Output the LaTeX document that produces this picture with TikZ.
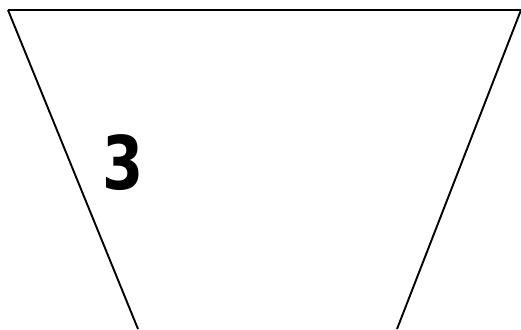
\documentclass[tikz,border=0pt]{standalone}
\usepackage{fontspec}
\newfontfamily\digitfont{DejaVu Sans}

\begin{document}
\begin{tikzpicture}[x=1pt,y=-1pt]
    \useasboundingbox (0,0) rectangle (521,329);
    \clip (0,0) rectangle (521,329);

    \coordinate (tl) at (8,10);
    \coordinate (tr) at (521,10);
    \coordinate (bl) at (138,329);
    \coordinate (br) at (397,329);

    \draw [line width=2pt] (tl) -- (tr);
    \draw [line width=1.9pt] (tl) -- (bl);
    \draw [line width=1.9pt] (tr) -- (br);

    \node (three) [inner sep=0pt,xscale=0.8,font=\digitfont\bfseries\fontsize{74}{74}\selectfont] at (123,163) {3};
\end{tikzpicture}
\end{document}
